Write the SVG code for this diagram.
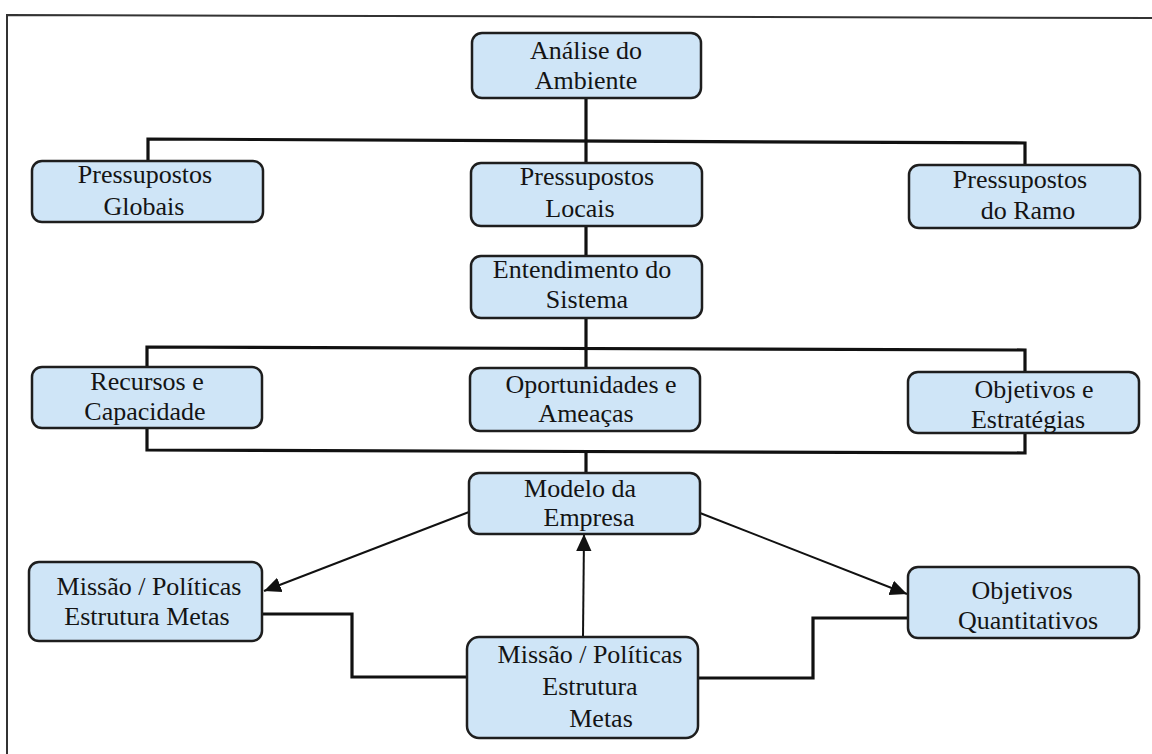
<svg xmlns="http://www.w3.org/2000/svg" width="1152" height="754" viewBox="0 0 1152 754">
<style>
.box{fill:#cfe5f7;stroke:#1e1e1e;stroke-width:2.5}
.t{font-family:"Liberation Serif","Times New Roman",serif;font-size:26px;fill:#141414;text-anchor:middle}
.ln{fill:none;stroke:#111;stroke-width:3.2;stroke-linejoin:miter}
.ar{fill:none;stroke:#111;stroke-width:2}
.frame{fill:none;stroke:#333;stroke-width:2}
</style>
<defs>
<marker id="ah2" viewBox="0 0 10 10" refX="10" refY="5" markerWidth="17" markerHeight="17" markerUnits="userSpaceOnUse" orient="auto">
<path d="M0,0.5 L10,5 L0,9.5 z" fill="#111"/>
</marker>
</defs>
<rect width="1152" height="754" fill="#fff"/>
<polyline class="frame" points="7,754 7,15 1152,18"/>
<g id="connectors">
<polyline class="ln" points="586,98 586,163"/>
<polyline class="ln" points="148,161 148,139 1025,143 1025,165"/>
<polyline class="ln" points="586,226 586,256"/>
<polyline class="ln" points="586,318 586,368"/>
<polyline class="ln" points="147,367 147,347 1025,350 1025,372"/>
<polyline class="ln" points="147,428 147,450 1025,453 1025,433"/>
<polyline class="ln" points="586,451 586,473"/>
<polyline class="ln" points="262,614 352,614 352,677 467,677"/>
<polyline class="ln" points="698,678 813,678 813,618 908,618"/>
<line class="ar" x1="469" y1="512" x2="264" y2="591" marker-end="url(#ah2)"/>
<line class="ar" x1="700" y1="513" x2="907" y2="594" marker-end="url(#ah2)"/>
<line class="ar" x1="583" y1="637" x2="584" y2="534" marker-end="url(#ah2)"/>
</g>
<g id="analise"><rect class="box" x="472" y="33" width="229" height="65" rx="10"/><text class="t" x="586" y="59">Análise do</text><text class="t" x="586" y="89">Ambiente</text></g>
<g id="globais"><rect class="box" x="32" y="161" width="231" height="61" rx="10"/><text class="t" x="145" y="183">Pressupostos</text><text class="t" x="144" y="215">Globais</text></g>
<g id="locais"><rect class="box" x="471" y="163" width="231" height="63" rx="10"/><text class="t" x="587" y="185">Pressupostos</text><text class="t" x="580" y="217">Locais</text></g>
<g id="ramo"><rect class="box" x="909" y="165" width="231" height="63" rx="10"/><text class="t" x="1020" y="188">Pressupostos</text><text class="t" x="1028" y="219">do Ramo</text></g>
<g id="entendimento"><rect class="box" x="471" y="256" width="231" height="62" rx="10"/><text class="t" x="582" y="278">Entendimento do</text><text class="t" x="587" y="308">Sistema</text></g>
<g id="recursos"><rect class="box" x="32" y="367" width="230" height="61" rx="10"/><text class="t" x="147" y="390">Recursos e</text><text class="t" x="145" y="420">Capacidade</text></g>
<g id="oportunidades"><rect class="box" x="470" y="368" width="230" height="63" rx="10"/><text class="t" x="591" y="393">Oportunidades e</text><text class="t" x="586" y="422">Ameaças</text></g>
<g id="estrategias"><rect class="box" x="908" y="372" width="231" height="61" rx="10"/><text class="t" x="1034" y="398">Objetivos e</text><text class="t" x="1028" y="428">Estratégias</text></g>
<g id="modelo"><rect class="box" x="469" y="473" width="231" height="61" rx="10"/><text class="t" x="580" y="497">Modelo da</text><text class="t" x="589" y="526">Empresa</text></g>
<g id="missao-esq"><rect class="box" x="29" y="562" width="233" height="79" rx="10"/><text class="t" x="149" y="595">Missão / Políticas</text><text class="t" x="147" y="625">Estrutura Metas</text></g>
<g id="quantitativos"><rect class="box" x="908" y="567" width="231" height="71" rx="10"/><text class="t" x="1022" y="599">Objetivos</text><text class="t" x="1028" y="629">Quantitativos</text></g>
<g id="missao-centro"><rect class="box" x="467" y="637" width="231" height="101" rx="12"/><text class="t" x="590" y="663">Missão / Políticas</text><text class="t" x="590" y="695">Estrutura</text><text class="t" x="601" y="727">Metas</text></g>
</svg>
